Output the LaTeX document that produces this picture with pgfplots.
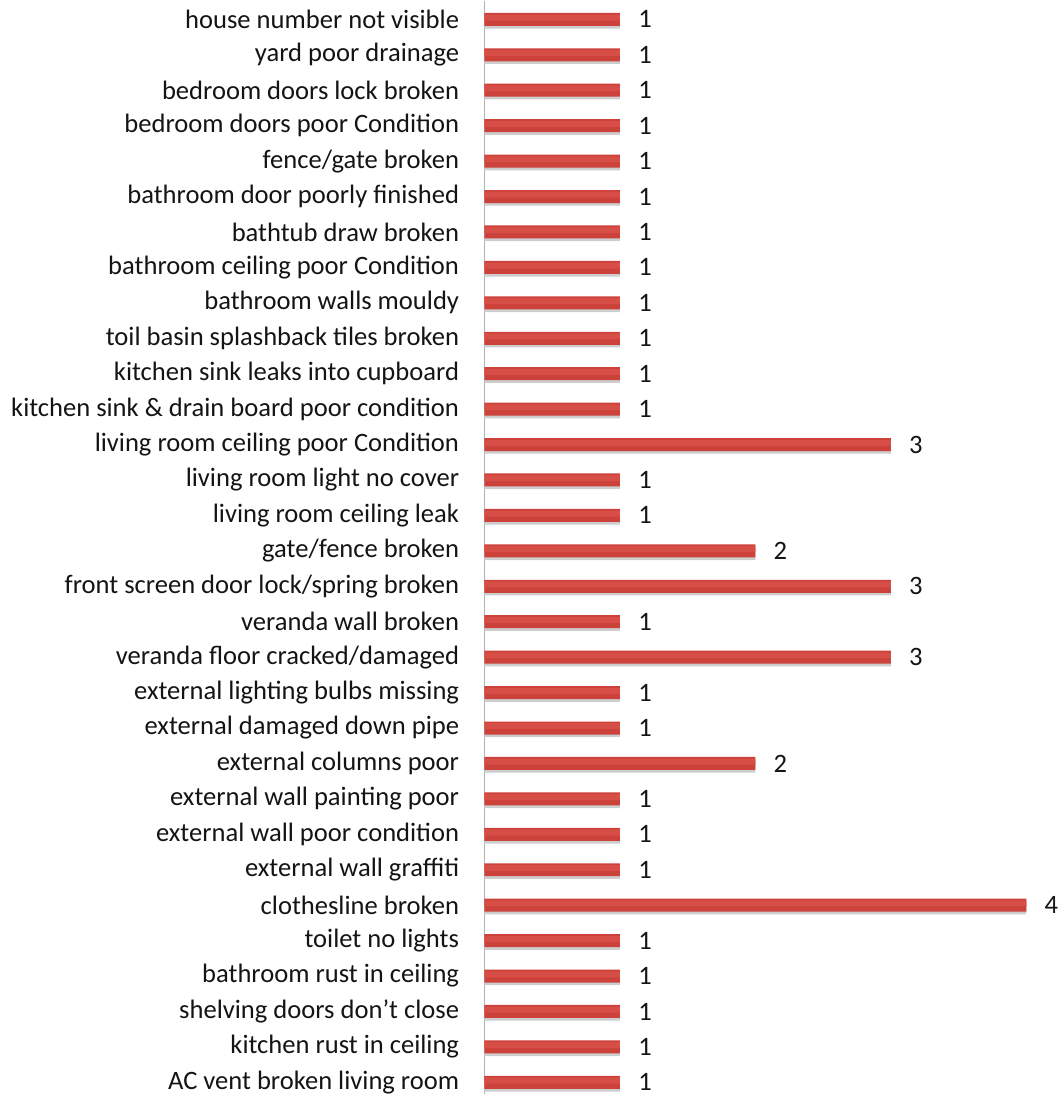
\documentclass[border=0pt]{standalone}
\usepackage{pgfplots}
\pgfplotsset{compat=1.18}
\usepackage{fontspec}
\setmainfont{Carlito}
\definecolor{barmain}{RGB}{204,66,58}
\definecolor{barhi}{RGB}{214,78,70}
\definecolor{barshadow}{RGB}{205,205,205}
\definecolor{txt}{RGB}{20,20,20}
\pgfplotstableread{
v y
1 0
1 1
1 2
1 3
1 4
4 5
1 6
1 7
1 8
2 9
1 10
1 11
3 12
1 13
3 14
2 15
1 16
1 17
3 18
1 19
1 20
1 21
1 22
1 23
1 24
1 25
1 26
1 27
1 28
1 29
1 30
}\datatable
\begin{document}
\begin{tikzpicture}
\begin{axis}[
  scale only axis,
  width=289.5pt, height=547.5pt,
  xbar,
  xmin=0, xmax=4.27,
  ymin=-0.34, ymax=30.53,
  axis y line=left, axis x line=none,
  y axis line style={-, draw=gray!60, line width=0.6pt},
  ytick={0,...,30},
  major tick length=0pt,
  yticklabels={
    {AC vent broken living room},
    {kitchen rust in ceiling},
    {shelving doors don’t close},
    {bathroom rust in ceiling},
    {toilet no lights},
    {clothesline broken},
    {external wall graffiti},
    {external wall poor condition},
    {external wall painting poor},
    {external columns poor},
    {external damaged down pipe},
    {external lighting bulbs missing},
    {veranda floor cracked/damaged},
    {veranda wall broken},
    {front screen door lock/spring broken},
    {gate/fence broken},
    {living room ceiling leak},
    {living room light no cover},
    {living room ceiling poor Condition},
    {kitchen sink \& drain board poor condition},
    {kitchen sink leaks into cupboard},
    {toil basin splashback tiles broken},
    {bathroom walls mouldy},
    {bathroom ceiling poor Condition},
    {bathtub draw broken},
    {bathroom door poorly finished},
    {fence/gate broken},
    {bedroom doors poor Condition},
    {bedroom doors lock broken},
    {yard poor drainage},
    {house number not visible}},
  yticklabel style={font=\fontsize{13.3}{16}\selectfont, text=txt, inner sep=0pt, xshift=-12.5pt},
  /pgf/number format/assume math mode=true,
  clip=false,
]
\addplot[draw=none, fill=barshadow, bar width=6pt, bar shift=-1.6pt] table[x=v, y=y] {\datatable};
\addplot[draw=none, fill=barmain, bar width=6.5pt, bar shift=0pt,
  nodes near coords,
  nodes near coords style={font=\fontsize{13.3}{16}\selectfont, text=txt, anchor=west, inner sep=0pt, xshift=9pt}]
  table[x=v, y=y] {\datatable};
\addplot[draw=none, fill=barhi, bar width=3pt, bar shift=0.9pt] table[x=v, y=y] {\datatable};
\coordinate (o) at (rel axis cs:0,0);
\end{axis}
\path (o) ++(-242.5pt,0pt);
\end{tikzpicture}
\end{document}
